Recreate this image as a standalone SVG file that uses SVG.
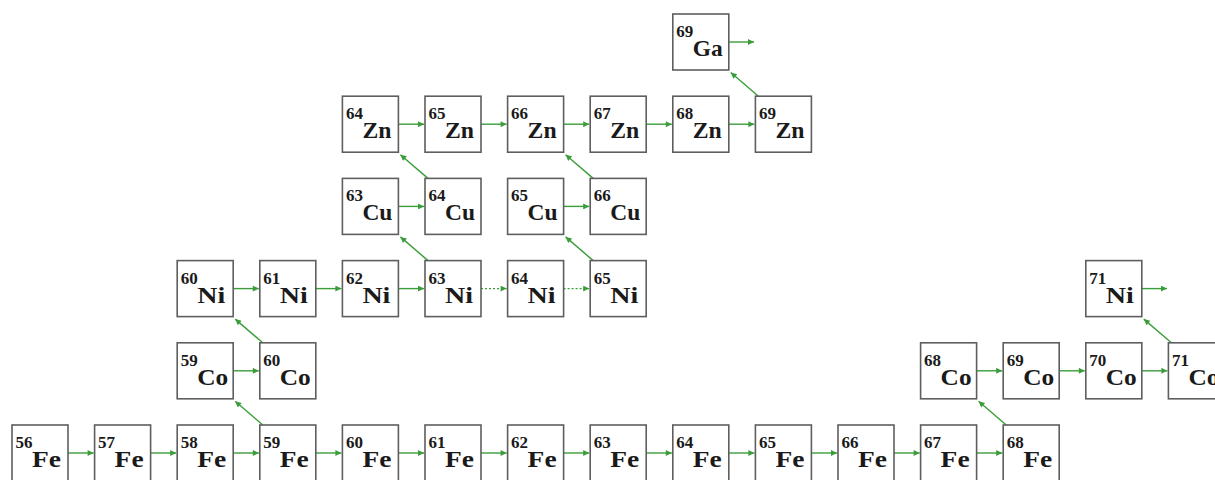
<svg xmlns="http://www.w3.org/2000/svg" width="1215" height="480" viewBox="0 0 1215 480">
<style>
.box{fill:#fff;stroke:#5e5e5e;stroke-width:1.6}
.num{font-family:"Liberation Serif","Times New Roman",serif;font-weight:bold;font-size:17px;fill:#1a1a1a}
.sym{font-family:"Liberation Serif","Times New Roman",serif;font-weight:bold;font-size:24px;fill:#1a1a1a}
.arr{stroke:#3a9d3a;stroke-width:1.4;fill:none;marker-end:url(#ah)}
.dot{stroke-dasharray:2 2}
</style>
<defs>
<marker id="ah" viewBox="0 0 10 10" refX="10" refY="5" markerUnits="userSpaceOnUse" markerWidth="9" markerHeight="6" orient="auto">
<path d="M0,0 L10,5 L0,10 z" fill="#3a9d3a"/>
</marker>
</defs>
<rect width="1215" height="480" fill="#fff"/>
<g id="connectors">
<path class="arr" d="M68,453 H93.6"/>
<path class="arr" d="M150.6,453 H176.2"/>
<path class="arr" d="M233.2,453 H258.8"/>
<path class="arr" d="M315.8,453 H341.4"/>
<path class="arr" d="M398.4,453 H424"/>
<path class="arr" d="M481,453 H506.6"/>
<path class="arr" d="M563.6,453 H589.2"/>
<path class="arr" d="M646.2,453 H671.8"/>
<path class="arr" d="M728.8,453 H754.4"/>
<path class="arr" d="M811.4,453 H837"/>
<path class="arr" d="M894,453 H919.6"/>
<path class="arr" d="M976.6,453 H1002.2"/>
<path class="arr" d="M233.2,370.8 H258.8"/>
<path class="arr" d="M976.6,370.8 H1002.2"/>
<path class="arr" d="M1059.2,370.8 H1084.8"/>
<path class="arr" d="M1141.8,370.8 H1167.4"/>
<path class="arr" d="M233.2,288.6 H258.8"/>
<path class="arr" d="M315.8,288.6 H341.4"/>
<path class="arr" d="M398.4,288.6 H424"/>
<path class="arr dot" d="M481,288.6 H506.6"/>
<path class="arr dot" d="M563.6,288.6 H589.2"/>
<path class="arr" d="M1141.8,288.6 H1167"/>
<path class="arr" d="M398.4,206.4 H424"/>
<path class="arr" d="M563.6,206.4 H589.2"/>
<path class="arr" d="M398.4,124.2 H424"/>
<path class="arr" d="M481,124.2 H506.6"/>
<path class="arr" d="M563.6,124.2 H589.2"/>
<path class="arr" d="M646.2,124.2 H671.8"/>
<path class="arr" d="M728.8,124.2 H754.4"/>
<path class="arr" d="M728.8,42 H754"/>
<path class="arr" d="M262.8,425 L235.2,401.3"/>
<path class="arr" d="M262.8,342.8 L235.2,319.1"/>
<path class="arr" d="M428,260.6 L400.4,236.9"/>
<path class="arr" d="M428,178.4 L400.4,154.7"/>
<path class="arr" d="M593.2,260.6 L565.6,236.9"/>
<path class="arr" d="M593.2,178.4 L565.6,154.7"/>
<path class="arr" d="M758.4,96.2 L730.8,72.5"/>
<path class="arr" d="M1006.2,425 L978.6,401.3"/>
<path class="arr" d="M1171.4,342.8 L1143.8,319.1"/>
</g>
<g id="Fe56"><rect class="box" x="12" y="425" width="56" height="56"/><text class="num" x="15.5" y="448">56</text><text class="sym" x="32" y="467" textLength="29" lengthAdjust="spacingAndGlyphs">Fe</text></g>
<g id="Fe57"><rect class="box" x="94.6" y="425" width="56" height="56"/><text class="num" x="98.1" y="448">57</text><text class="sym" x="114.6" y="467" textLength="29" lengthAdjust="spacingAndGlyphs">Fe</text></g>
<g id="Fe58"><rect class="box" x="177.2" y="425" width="56" height="56"/><text class="num" x="180.7" y="448">58</text><text class="sym" x="197.2" y="467" textLength="29" lengthAdjust="spacingAndGlyphs">Fe</text></g>
<g id="Fe59"><rect class="box" x="259.8" y="425" width="56" height="56"/><text class="num" x="263.3" y="448">59</text><text class="sym" x="279.8" y="467" textLength="29" lengthAdjust="spacingAndGlyphs">Fe</text></g>
<g id="Fe60"><rect class="box" x="342.4" y="425" width="56" height="56"/><text class="num" x="345.9" y="448">60</text><text class="sym" x="362.4" y="467" textLength="29" lengthAdjust="spacingAndGlyphs">Fe</text></g>
<g id="Fe61"><rect class="box" x="425" y="425" width="56" height="56"/><text class="num" x="428.5" y="448">61</text><text class="sym" x="445" y="467" textLength="29" lengthAdjust="spacingAndGlyphs">Fe</text></g>
<g id="Fe62"><rect class="box" x="507.6" y="425" width="56" height="56"/><text class="num" x="511.1" y="448">62</text><text class="sym" x="527.6" y="467" textLength="29" lengthAdjust="spacingAndGlyphs">Fe</text></g>
<g id="Fe63"><rect class="box" x="590.2" y="425" width="56" height="56"/><text class="num" x="593.7" y="448">63</text><text class="sym" x="610.2" y="467" textLength="29" lengthAdjust="spacingAndGlyphs">Fe</text></g>
<g id="Fe64"><rect class="box" x="672.8" y="425" width="56" height="56"/><text class="num" x="676.3" y="448">64</text><text class="sym" x="692.8" y="467" textLength="29" lengthAdjust="spacingAndGlyphs">Fe</text></g>
<g id="Fe65"><rect class="box" x="755.4" y="425" width="56" height="56"/><text class="num" x="758.9" y="448">65</text><text class="sym" x="775.4" y="467" textLength="29" lengthAdjust="spacingAndGlyphs">Fe</text></g>
<g id="Fe66"><rect class="box" x="838" y="425" width="56" height="56"/><text class="num" x="841.5" y="448">66</text><text class="sym" x="858" y="467" textLength="29" lengthAdjust="spacingAndGlyphs">Fe</text></g>
<g id="Fe67"><rect class="box" x="920.6" y="425" width="56" height="56"/><text class="num" x="924.1" y="448">67</text><text class="sym" x="940.6" y="467" textLength="29" lengthAdjust="spacingAndGlyphs">Fe</text></g>
<g id="Fe68"><rect class="box" x="1003.2" y="425" width="56" height="56"/><text class="num" x="1006.7" y="448">68</text><text class="sym" x="1023.2" y="467" textLength="29" lengthAdjust="spacingAndGlyphs">Fe</text></g>
<g id="Co59"><rect class="box" x="177.2" y="342.8" width="56" height="56"/><text class="num" x="180.7" y="365.8">59</text><text class="sym" x="197.2" y="384.8" textLength="31" lengthAdjust="spacingAndGlyphs">Co</text></g>
<g id="Co60"><rect class="box" x="259.8" y="342.8" width="56" height="56"/><text class="num" x="263.3" y="365.8">60</text><text class="sym" x="279.8" y="384.8" textLength="31" lengthAdjust="spacingAndGlyphs">Co</text></g>
<g id="Co68"><rect class="box" x="920.6" y="342.8" width="56" height="56"/><text class="num" x="924.1" y="365.8">68</text><text class="sym" x="940.6" y="384.8" textLength="31" lengthAdjust="spacingAndGlyphs">Co</text></g>
<g id="Co69"><rect class="box" x="1003.2" y="342.8" width="56" height="56"/><text class="num" x="1006.7" y="365.8">69</text><text class="sym" x="1023.2" y="384.8" textLength="31" lengthAdjust="spacingAndGlyphs">Co</text></g>
<g id="Co70"><rect class="box" x="1085.8" y="342.8" width="56" height="56"/><text class="num" x="1089.3" y="365.8">70</text><text class="sym" x="1105.8" y="384.8" textLength="31" lengthAdjust="spacingAndGlyphs">Co</text></g>
<g id="Co71"><rect class="box" x="1168.4" y="342.8" width="56" height="56"/><text class="num" x="1171.9" y="365.8">71</text><text class="sym" x="1188.4" y="384.8" textLength="31" lengthAdjust="spacingAndGlyphs">Co</text></g>
<g id="Ni60"><rect class="box" x="177.2" y="260.6" width="56" height="56"/><text class="num" x="180.7" y="283.6">60</text><text class="sym" x="197.2" y="302.6" textLength="28" lengthAdjust="spacingAndGlyphs">Ni</text></g>
<g id="Ni61"><rect class="box" x="259.8" y="260.6" width="56" height="56"/><text class="num" x="263.3" y="283.6">61</text><text class="sym" x="279.8" y="302.6" textLength="28" lengthAdjust="spacingAndGlyphs">Ni</text></g>
<g id="Ni62"><rect class="box" x="342.4" y="260.6" width="56" height="56"/><text class="num" x="345.9" y="283.6">62</text><text class="sym" x="362.4" y="302.6" textLength="28" lengthAdjust="spacingAndGlyphs">Ni</text></g>
<g id="Ni63"><rect class="box" x="425" y="260.6" width="56" height="56"/><text class="num" x="428.5" y="283.6">63</text><text class="sym" x="445" y="302.6" textLength="28" lengthAdjust="spacingAndGlyphs">Ni</text></g>
<g id="Ni64"><rect class="box" x="507.6" y="260.6" width="56" height="56"/><text class="num" x="511.1" y="283.6">64</text><text class="sym" x="527.6" y="302.6" textLength="28" lengthAdjust="spacingAndGlyphs">Ni</text></g>
<g id="Ni65"><rect class="box" x="590.2" y="260.6" width="56" height="56"/><text class="num" x="593.7" y="283.6">65</text><text class="sym" x="610.2" y="302.6" textLength="28" lengthAdjust="spacingAndGlyphs">Ni</text></g>
<g id="Ni71"><rect class="box" x="1085.8" y="260.6" width="56" height="56"/><text class="num" x="1089.3" y="283.6">71</text><text class="sym" x="1105.8" y="302.6" textLength="28" lengthAdjust="spacingAndGlyphs">Ni</text></g>
<g id="Cu63"><rect class="box" x="342.4" y="178.4" width="56" height="56"/><text class="num" x="345.9" y="201.4">63</text><text class="sym" x="362.4" y="220.4" textLength="30" lengthAdjust="spacingAndGlyphs">Cu</text></g>
<g id="Cu64"><rect class="box" x="425" y="178.4" width="56" height="56"/><text class="num" x="428.5" y="201.4">64</text><text class="sym" x="445" y="220.4" textLength="30" lengthAdjust="spacingAndGlyphs">Cu</text></g>
<g id="Cu65"><rect class="box" x="507.6" y="178.4" width="56" height="56"/><text class="num" x="511.1" y="201.4">65</text><text class="sym" x="527.6" y="220.4" textLength="30" lengthAdjust="spacingAndGlyphs">Cu</text></g>
<g id="Cu66"><rect class="box" x="590.2" y="178.4" width="56" height="56"/><text class="num" x="593.7" y="201.4">66</text><text class="sym" x="610.2" y="220.4" textLength="30" lengthAdjust="spacingAndGlyphs">Cu</text></g>
<g id="Zn64"><rect class="box" x="342.4" y="96.2" width="56" height="56"/><text class="num" x="345.9" y="119.2">64</text><text class="sym" x="362.4" y="138.2" textLength="29" lengthAdjust="spacingAndGlyphs">Zn</text></g>
<g id="Zn65"><rect class="box" x="425" y="96.2" width="56" height="56"/><text class="num" x="428.5" y="119.2">65</text><text class="sym" x="445" y="138.2" textLength="29" lengthAdjust="spacingAndGlyphs">Zn</text></g>
<g id="Zn66"><rect class="box" x="507.6" y="96.2" width="56" height="56"/><text class="num" x="511.1" y="119.2">66</text><text class="sym" x="527.6" y="138.2" textLength="29" lengthAdjust="spacingAndGlyphs">Zn</text></g>
<g id="Zn67"><rect class="box" x="590.2" y="96.2" width="56" height="56"/><text class="num" x="593.7" y="119.2">67</text><text class="sym" x="610.2" y="138.2" textLength="29" lengthAdjust="spacingAndGlyphs">Zn</text></g>
<g id="Zn68"><rect class="box" x="672.8" y="96.2" width="56" height="56"/><text class="num" x="676.3" y="119.2">68</text><text class="sym" x="692.8" y="138.2" textLength="29" lengthAdjust="spacingAndGlyphs">Zn</text></g>
<g id="Zn69"><rect class="box" x="755.4" y="96.2" width="56" height="56"/><text class="num" x="758.9" y="119.2">69</text><text class="sym" x="775.4" y="138.2" textLength="29" lengthAdjust="spacingAndGlyphs">Zn</text></g>
<g id="Ga69"><rect class="box" x="672.8" y="14" width="56" height="56"/><text class="num" x="676.3" y="37">69</text><text class="sym" x="692.8" y="56" textLength="30" lengthAdjust="spacingAndGlyphs">Ga</text></g>
</svg>
